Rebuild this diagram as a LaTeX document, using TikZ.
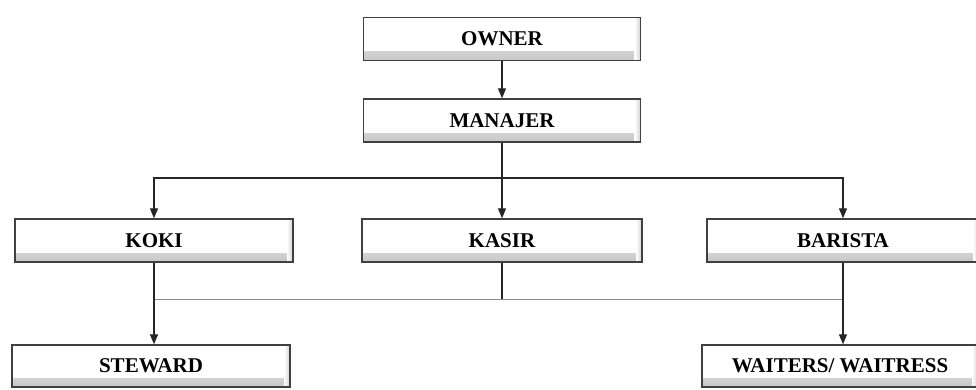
\documentclass[tikz,border=0pt]{standalone}
\usepackage{fontspec}
\setmainfont{Liberation Serif}
\usetikzlibrary{arrows.meta}
\begin{document}
\begin{tikzpicture}[x=1pt,y=-1pt,
  box/.style={draw=black!75, line width=1.4pt, fill=white, inner sep=0pt,
    minimum height=#1, font=\fontsize{21}{23}\selectfont\bfseries,
    path picture={
      \shade[top color=white, bottom color=black!22]
        ([yshift=9pt]path picture bounding box.south west) rectangle (path picture bounding box.south east);
      \shade[left color=white, right color=black!18]
        ([xshift=-6pt]path picture bounding box.south east) rectangle (path picture bounding box.north east);
    }},
  box/.default=43pt,
  conn/.style={draw=black!85, line width=1.2pt},
  arr/.style={conn, -{Triangle[length=10pt,width=8pt]}},
  thinl/.style={draw=black!45, line width=1pt}]
\useasboundingbox (0,0) rectangle (976,389);
\node[box, minimum width=277pt] (owner) at (502,39) {OWNER};
\node[box, minimum width=277pt] (manajer) at (502,120.5) {MANAJER};
\node[box, minimum width=278pt] (koki) at (154,240.5) {KOKI};
\node[box, minimum width=280pt] (kasir) at (502,240.5) {KASIR};
\node[box, minimum width=272pt] (barista) at (843,240.5) {BARISTA};
\node[box=42pt, minimum width=278pt] (steward) at (151,366) {STEWARD};
\node[box=42pt, minimum width=276pt] (waiters) at (840,366) {WAITERS/ WAITRESS};
\coordinate (j1) at (502,178);
\coordinate (j2) at (502,299);
\draw[arr] (owner) -- (manajer);
\draw[conn] (manajer) -- (j1);
\draw[arr] (j1) -| (koki.north);
\draw[arr] (j1) -| (barista.north);
\draw[arr] (j1) -- (kasir);
\draw[conn] (kasir) -- (j2);
\draw[thinl] (koki.south |- j2) -- (barista.south |- j2);
\draw[arr] (koki) -- (koki.south |- steward.north);
\draw[arr] (barista) -- (barista.south |- waiters.north);
\end{tikzpicture}
\end{document}
